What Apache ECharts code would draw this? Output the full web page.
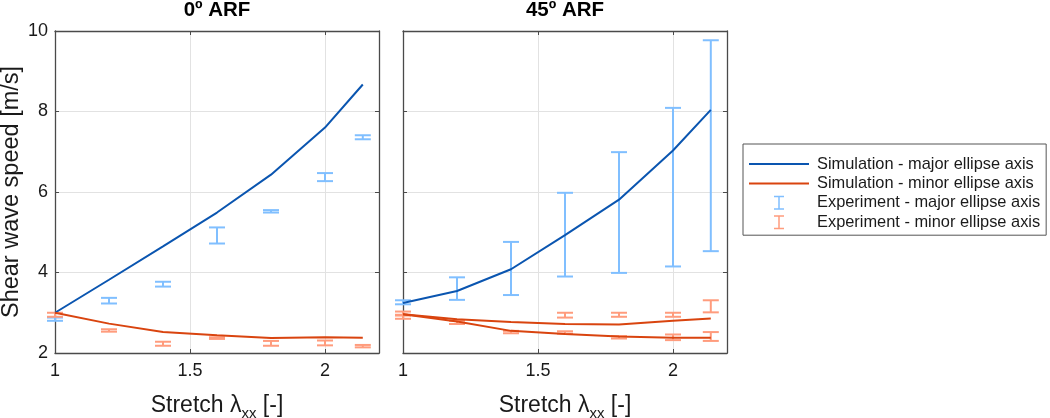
<!DOCTYPE html>
<html>
<head>
<meta charset="utf-8">
<script src="https://cdn.jsdelivr.net/npm/echarts@6/dist/echarts.min.js"></script>
<style>html,body{margin:0;padding:0;background:#fff}#c{width:1050px;height:418px}</style>
</head>
<body>
<div id="c"></div>
<script>
// ---------- data ----------
const stretch = [1, 1.2, 1.4, 1.6, 1.8, 2.0, 2.14];
const panelTitles = ['0º ARF', '45º ARF'];
const xTicks = [1, 1.5, 2];
const yTicks = [2, 4, 6, 8, 10];
const seriesNames = ['Simulation - major ellipse axis', 'Simulation - minor ellipse axis',
                     'Experiment - major ellipse axis', 'Experiment - minor ellipse axis'];

// 0º ARF
const sim0Major = [3.0, 3.82, 4.65, 5.49, 6.43, 7.6, 8.67];
const sim0Minor = [3.0, 2.73, 2.52, 2.44, 2.37, 2.39, 2.38];
const exp0MajorMean = [2.84, 3.30, 3.71, 4.92, 5.52, 6.37, 7.36];
const exp0MajorErr  = [0.04, 0.07, 0.06, 0.20, 0.03, 0.10, 0.05];
const exp0MinorMean = [2.95, 2.56, 2.23, 2.37, 2.24, 2.25, 2.17];
const exp0MinorErr  = [0.05, 0.03, 0.05, 0.02, 0.06, 0.06, 0.03];

// 45º ARF
const sim45Major  = [3.24, 3.54, 4.08, 4.93, 5.81, 7.03, 8.04];
const sim45MinorA = [2.96, 2.84, 2.77, 2.72, 2.71, 2.80, 2.86];
const sim45MinorB = [2.96, 2.78, 2.55, 2.47, 2.41, 2.38, 2.38];
const exp45MajorMean = [3.26, 3.60, 4.10, 4.94, 5.49, 6.12, 7.15];
const exp45MajorErr  = [0.05, 0.28, 0.66, 1.04, 1.50, 1.97, 2.62];
const exp45MinorAMean = [2.90, 2.76, 2.52, 2.51, 2.39, 2.39, 2.41];
const exp45MinorAErr  = [0.05, 0.04, 0.03, 0.03, 0.03, 0.07, 0.11];
const exp45MinorBMean = [2.98, null, null, 2.94, 2.95, 2.95, 3.16];
const exp45MinorBErr  = [0.05, null, null, 0.06, 0.05, 0.05, 0.15];

// ---------- styling ----------
const FONT = "'Liberation Sans', Arial, Helvetica, sans-serif";
const C_MAJ = '#0a55b0';
const C_MIN = '#d9440f';
const C_EMAJ = '#80bfff';
const C_EMIN = '#ff9c7d';
const AX = '#4a4a4a';

const line = (ys) => stretch.map((x, i) => [x, ys[i]]);
const errData = (m, e) => stretch.map((x, i) => [x, m[i], e[i]]).filter(d => d[1] != null);

function errRender(params, api) {
  const x = api.value(0), m = api.value(1), e = api.value(2);
  const lo = api.coord([x, m - e]);
  const hi = api.coord([x, m + e]);
  const hw = 8;
  const st = { stroke: api.visual('color'), lineWidth: 2, fill: null };
  return {
    type: 'group',
    children: [
      { type: 'line', shape: { x1: lo[0], y1: lo[1], x2: hi[0], y2: hi[1] }, style: st },
      { type: 'line', shape: { x1: lo[0] - hw, y1: lo[1], x2: lo[0] + hw, y2: lo[1] }, style: st },
      { type: 'line', shape: { x1: hi[0] - hw, y1: hi[1], x2: hi[0] + hw, y2: hi[1] }, style: st }
    ]
  };
}

const grids = [
  { left: 55, top: 31, width: 324, height: 322, outerBoundsMode: 'none', containLabel: false },
  { left: 403, top: 31, width: 324, height: 322, outerBoundsMode: 'none', containLabel: false }
];

function xMain(g) {
  return {
    type: 'value', gridIndex: g, min: 1, max: 2.2, interval: 0.5, position: 'bottom',
    name: 'Stretch λ{sub|xx} [-]', nameLocation: 'middle', nameGap: 38,
    nameTextStyle: { fontFamily: FONT, fontSize: 23, color: '#1a1a1a', lineHeight: 30,
      rich: { sub: { fontFamily: FONT, fontSize: 15, color: '#1a1a1a', verticalAlign: 'bottom', lineHeight: 15 } } },
    axisLine: { show: true, onZero: false, lineStyle: { color: AX, width: 1.3 } },
    axisTick: { show: true, inside: true, length: 4, lineStyle: { color: AX } },
    axisLabel: { fontFamily: FONT, fontSize: 18, color: '#1a1a1a', margin: 9,
      formatter: v => (xTicks.some(t => Math.abs(t - v) < 1e-6) ? String(v) : '') },
    splitLine: { show: true, lineStyle: { color: '#e2e2e2', width: 1 } }
  };
}
function xTop(g) {
  return {
    type: 'value', gridIndex: g, min: 1, max: 2.2, interval: 0.5, position: 'top',
    axisLine: { show: true, onZero: false, lineStyle: { color: AX, width: 1.3 } },
    axisTick: { show: true, inside: true, length: 4, lineStyle: { color: AX } },
    axisLabel: { show: false }, splitLine: { show: false }
  };
}
function yMain(g, labels) {
  return {
    type: 'value', gridIndex: g, min: 2, max: 10, interval: 2, position: 'left',
    name: labels ? 'Shear wave speed [m/s]' : '', nameLocation: 'middle', nameGap: 31,
    nameTextStyle: { fontFamily: FONT, fontSize: 23.5, color: '#1a1a1a' },
    axisLine: { show: true, onZero: false, lineStyle: { color: AX, width: 1.3 } },
    axisTick: { show: true, inside: true, length: 4, lineStyle: { color: AX } },
    axisLabel: { show: labels, fontFamily: FONT, fontSize: 18, color: '#1a1a1a', margin: 7,
      formatter: v => (yTicks.includes(v) ? String(v) : '') },
    splitLine: { show: true, lineStyle: { color: '#e2e2e2', width: 1 } }
  };
}
function yRight(g) {
  return {
    type: 'value', gridIndex: g, min: 2, max: 10, interval: 2, position: 'right',
    axisLine: { show: true, onZero: false, lineStyle: { color: AX, width: 1.3 } },
    axisTick: { show: true, inside: true, length: 4, lineStyle: { color: AX } },
    axisLabel: { show: false }, splitLine: { show: false }
  };
}

function simSeries(name, data, color, xi, yi) {
  return { type: 'line', name, data: line(data), xAxisIndex: xi, yAxisIndex: yi,
    color, showSymbol: false, symbol: 'none', lineStyle: { color, width: 2 }, z: 3, animation: false };
}
function errSeries(name, mean, err, color, xi, yi) {
  return { type: 'custom', name, data: errData(mean, err), xAxisIndex: xi, yAxisIndex: yi,
    color, itemStyle: { color }, renderItem: errRender, encode: { x: 0, y: [1, 2] }, z: 2, animation: false };
}

const LINE_ICON = 'path://M0,0 L60,0 L60,2 L0,2 Z';
const ERR_ICON = 'path://M0,0 H10 V1.5 H5.75 V12.5 H10 V14 H0 V12.5 H4.25 V1.5 H0 Z';

const option = {
  animation: false,
  backgroundColor: '#ffffff',
  title: panelTitles.map((t, i) => ({
    text: t, left: grids[i].left + grids[i].width / 2, top: 0, textAlign: 'center', padding: 0,
    textStyle: { fontFamily: FONT, fontSize: 20.5, fontWeight: 'bold', color: '#000' }
  })),
  grid: grids,
  xAxis: [xMain(0), xMain(1), xTop(0), xTop(1)],
  yAxis: [yMain(0, true), yMain(1, false), yRight(0), yRight(1)],
  legend: {
    orient: 'vertical', left: 743, top: 144,
    padding: [12, 6, 5, 6], itemGap: 3.4, itemWidth: 60, itemHeight: 14,
    symbolKeepAspect: true, selectedMode: false,
    borderColor: '#555', borderWidth: 1, backgroundColor: '#fff',
    textStyle: { fontFamily: FONT, fontSize: 16.4, color: '#1a1a1a', lineHeight: 16, padding: [0, 0, 0, 3] },
    data: [
      { name: seriesNames[0], icon: LINE_ICON },
      { name: seriesNames[1], icon: LINE_ICON },
      { name: seriesNames[2], icon: ERR_ICON },
      { name: seriesNames[3], icon: ERR_ICON }
    ]
  },
  series: [
    simSeries(seriesNames[0], sim0Major, C_MAJ, 0, 0),
    simSeries(seriesNames[1], sim0Minor, C_MIN, 0, 0),
    errSeries(seriesNames[2], exp0MajorMean, exp0MajorErr, C_EMAJ, 0, 0),
    errSeries(seriesNames[3], exp0MinorMean, exp0MinorErr, C_EMIN, 0, 0),
    simSeries(seriesNames[0], sim45Major, C_MAJ, 1, 1),
    simSeries(seriesNames[1], sim45MinorA, C_MIN, 1, 1),
    simSeries(seriesNames[1], sim45MinorB, C_MIN, 1, 1),
    errSeries(seriesNames[2], exp45MajorMean, exp45MajorErr, C_EMAJ, 1, 1),
    errSeries(seriesNames[3], exp45MinorAMean, exp45MinorAErr, C_EMIN, 1, 1),
    errSeries(seriesNames[3], exp45MinorBMean, exp45MinorBErr, C_EMIN, 1, 1)
  ]
};

const chart = echarts.init(document.getElementById('c'), null, { renderer: 'canvas' });
chart.setOption(option);
</script>
</body>
</html>
